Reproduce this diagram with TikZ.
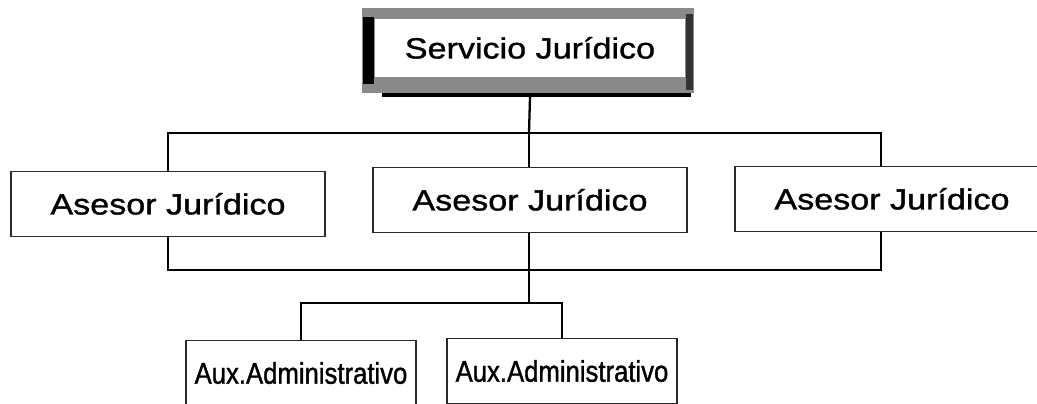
\documentclass[tikz,border=0pt]{standalone}
\usepackage{fontspec}
\setmainfont[FakeStretch=1.17, FakeBold=1.2]{Liberation Sans}
\newfontfamily\narrowfont[FakeStretch=0.86, FakeBold=1.2]{Liberation Sans}

\definecolor{Frame}{HTML}{8A8A8A}
\definecolor{Edge}{HTML}{2A2A2A}

\tikzset{
  conn/.style={line width=1.3pt, color=black},
  asesor/.style={draw=Edge, line width=0.9pt, fill=white, minimum width=6.28cm, minimum height=1.3cm,
    inner sep=0pt, text height=11.9pt, text depth=0pt, font=\fontsize{16.6}{20}\selectfont},
  aux/.style={asesor, minimum width=4.6cm, text height=12.2pt, font=\narrowfont\fontsize{17}{21}\selectfont}
}

\begin{document}
\begin{tikzpicture}[x=0.02cm, y=-0.02cm]

 \useasboundingbox (0,0) rectangle (1037,404);
 \clip (0,0) rectangle (1037,404);

 %%%%%%%%%% Cadre du Servicio %%%%%%%%%%
 \fill [color=Frame] (362,8) rectangle (694,93);
 \fill [color=black] (363,17) rectangle (374,84);
 \fill [color=black!80] (686,14) rectangle (693,90);
 \fill [color=black] (382,93) rectangle (691,97);
 \node (serv) [fill=white, inner sep=0pt, minimum width=6.2cm, minimum height=1.16cm,
   text height=11.9pt, text depth=0pt, font=\fontsize{16.6}{20}\selectfont] at (530,48) {Servicio Jurídico};

 %%%%%%%%%% Asesores %%%%%%%%%%
 \node (aj1) [asesor] at (168,204) {Asesor Jurídico};
 \node (aj2) [asesor] at (530,200) {Asesor Jurídico};
 \node (aj3) [asesor] at (892,199) {Asesor Jurídico};

 %%%%%%%%%% Auxiliares %%%%%%%%%%
 \node (aux1) [aux] at (301,373) {Aux.Administrativo};
 \node (aux2) [aux] at (562,371) {Aux.Administrativo};

 %%%%%%%%%% Lignes %%%%%%%%%%
 \coordinate (busA) at (529,133);
 \coordinate (busB) at (529,270);
 \coordinate (busC) at (529,303);
 \coordinate (aj3top) at ([xshift=-0.22cm]aj3.north);
 \coordinate (aj3bot) at ([xshift=-0.22cm]aj3.south);

 \draw [conn] (serv.south |- 0,97) -- (busA) ;
 \draw [conn] (aj1.north) -- (aj1.north |- busA) -- (aj3top |- busA) -- (aj3top) ;
 \draw [conn] (aj2.north -| busA) -- (busA) ;
 \draw [conn] (aj1.south) -- (aj1.south |- busB) -- (aj3bot |- busB) -- (aj3bot) ;
 \draw [conn] (aj2.south -| busA) -- (busC) ;
 \draw [conn] (aux1.north) -- (aux1.north |- busC) -- (aux2.north |- busC) -- (aux2.north) ;

\end{tikzpicture}
\end{document}
